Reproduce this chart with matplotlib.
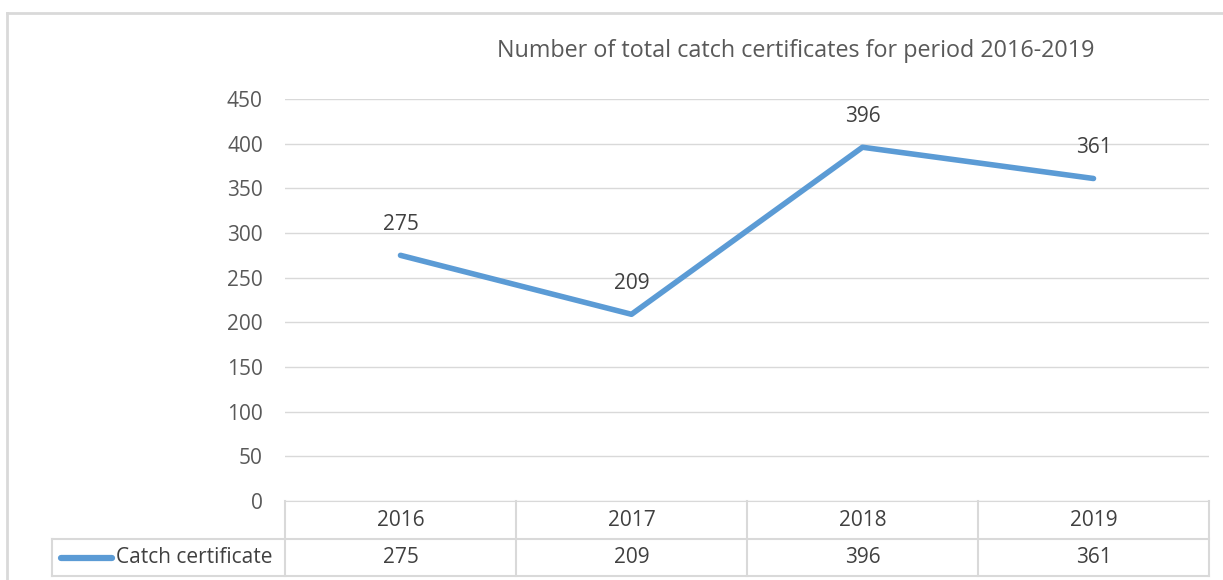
import matplotlib.pyplot as plt
from matplotlib.lines import Line2D
import matplotlib.transforms as mtransforms

years = ["2016", "2017", "2018", "2019"]
certificates = [275, 209, 396, 361]
series_name = "Catch certificate"
title = "Number of total catch certificates for period 2016-2019"

W, H = 1223, 580
LINE_C = "#5b9bd5"
GRID_C = "#d9d9d9"
TEXT_C = "#595959"
FS = 15
plt.rcParams["font.family"] = ["Open Sans", "DejaVu Sans"]

fig = plt.figure(figsize=(W / 100, H / 100), dpi=100)


def fx(px):
    return px / W


def fy(py):
    return 1 - py / H


# outer chart frame (cut off on the right and bottom)
fig.add_artist(Line2D([fx(7), fx(7)], [fy(13), 0], color=GRID_C, lw=2))
fig.add_artist(Line2D([fx(7), 1], [fy(13), fy(13)], color=GRID_C, lw=2))

ax = fig.add_axes([fx(285), fy(501), fx(1209) - fx(285), fy(99) - fy(501)])
x = list(range(len(years)))
ax.plot(x, certificates, color=LINE_C, lw=4, solid_capstyle="round", zorder=3)
for xi, v in zip(x, certificates):
    ax.annotate(str(v), (xi, v), xytext=(0, 22), textcoords="offset points",
                ha="center", va="center", fontsize=FS, color="#404040")

ax.set_xlim(-0.5, len(years) - 0.5)
ax.set_ylim(0, 450)
ax.set_yticks(range(0, 451, 50))
ax.yaxis.grid(True, color=GRID_C, lw=1)
ax.set_axisbelow(True)
ax.set_xticks([])
ax.tick_params(axis="y", length=0, pad=16, labelsize=FS, labelcolor=TEXT_C)
for s in ["left", "right", "top"]:
    ax.spines[s].set_visible(False)
ax.spines["bottom"].set_color(GRID_C)

fig.text(fx(796), fy(51), title, ha="center", va="center", fontsize=16.8, color=TEXT_C)

# data table under the axis
trans = mtransforms.blended_transform_factory(ax.transData, fig.transFigure)
row_top, row_mid, row_bot = fy(501), fy(539), fy(576)
for i in range(len(years) + 1):
    ax.add_line(Line2D([i - 0.5, i - 0.5], [row_top, row_bot], transform=trans,
                       color=GRID_C, lw=1.5, clip_on=False))
for yy in (row_mid, row_bot):
    fig.add_artist(Line2D([fx(52), fx(1209)], [yy, yy], color=GRID_C, lw=1.5))
fig.add_artist(Line2D([fx(52), fx(52)], [row_mid, row_bot], color=GRID_C, lw=1.5))
for xi, yr, v in zip(x, years, certificates):
    ax.text(xi, (row_top + row_mid) / 2, yr, transform=trans, ha="center", va="center",
            fontsize=FS, color="#404040")
    ax.text(xi, (row_mid + row_bot) / 2, str(v), transform=trans, ha="center", va="center",
            fontsize=FS, color="#404040")

# legend key in the table
ly = (row_mid + row_bot) / 2
fig.add_artist(Line2D([fx(61), fx(112)], [ly, ly], color=LINE_C, lw=4.5, solid_capstyle="round"))
fig.text(fx(116), ly, series_name, ha="left", va="center", fontsize=FS, color="#404040")

fig.savefig("out.png", dpi=100)
